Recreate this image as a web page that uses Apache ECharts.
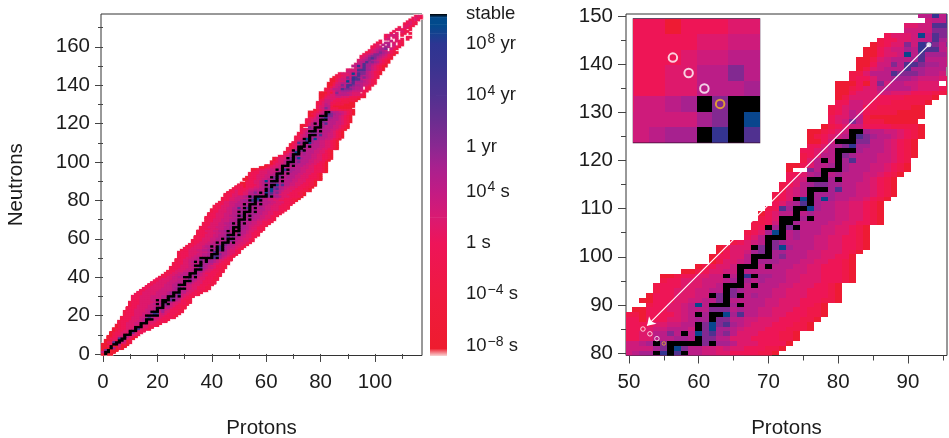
<!DOCTYPE html>
<html><head><meta charset="utf-8">
<style>html,body{margin:0;padding:0;background:#fff}#c{width:949px;height:438px}</style>
<script src="https://cdn.jsdelivr.net/npm/echarts@6/dist/echarts.min.js"></script>
</head><body><div id="c"></div>
<script>
// Half-life levels: one character per nuclide.
const levelLog = {'0':-7,'1':-2.5,'2':-0.5,'3':1.5,'4':3,'5':4.5,'6':6,'7':8,'8':11.5,'9':14.5,'B':16.7,'#':17.8};
// First proton number of the row for neutron number N = index
const rowStartZ = [0,0,0,0,0,0,1,1,2,2,3,3,4,4,5,5,6,6,7,7,8,8,8,9,9,10,10,10,11,11,11,12,13,14,15,16,17,18,19,20,21,22,23,24,25,25,26,26,27,27,28,28,28,28,29,30,31,32,33,33,34,34,35,35,35,36,36,37,37,38,38,38,39,39,40,40,41,41,42,43,
44,44,45,45,46,47,48,49,50,51,53,52,53,54,54,55,55,58,60,62,62,63,63,65,67,67,68,68,69,69,70,71,71,71,72,72,73,73,73,73,75,75,75,76,76,76,76,78,79,79,79,79,80,80,80,80,80,82,82,83,83,83,84,84,85,86,87,90,90,93,92,
93,94,94,95,95,96,97,98,99,99,100,101,102,103,104,104,106,107,108,109,110,111,112,113,114,115];
const rowLevels = [
"0#00","4##00","07#000","000#6010","002#00300","0002##4010","0228##4301","00032##401","02228##320","002244#5320",
"01223###332","0122333#7322","012233###322","01122334#83221","0122333###3321","012233343#332221","12233344###33221","1222333445#3332221","122233345###432221","12223334468644322221",
"12223334#####3322211","122233344479834322211","1222333345###463322211","12233334445#564322211","12223333445###45322211","122333344455#65432211","1222333345#6#7#4332221","12223333344 5##654332211","222333344#5###8#542211","2223333444455#77653221",
"2223333444455###6#43221","22233333444456#684332221","2233333444456###55332211","22333334444456#5543322211","2233333444456###443322211","223333344455756443322211","22333344455###4433322211","223333444555#56433322211","22333344455###543322211","22333344445576543322211",
"122334455###5#43322211","1223344555#67543322211","122334455###543222211","1223334455#6643322211","122333445###54332211","122233344568654432211","12233345###654332211","1222334455#6655332211","1223345#5#6#66543221","12233445576#665433221",
"12233445#####8#64321","122233444556#88654321","122233344556###7554321","12223333444558#55543321","12233344556#6#8#643321","122333344556#8#6544321","122333455#5#8#65543321","122333445556#765543321","122333445#5###5#443321","1222333445556#765443321",
"1223334455#6###5543321","12223334455686765443321","12233344556###6#5433221","1222333445566#475543221","12233344556#5###55433221","122233344556#5#655433221","122333444556###665433221","1223334445566#6554433221","12233344556#5#6#554433221","122333444556#665544332221",
"122333444556###6#554433221","12223334445566#66655443321","12233344556#7#6#6554433221","1223334445556#6666554433221","1223334455#6###6#5544332221","12233344555666#6655544333221","12233445585#8#5#565443332221","1223334455566#66655443332221","1223344555#5###5#55443332221","1233444555667#66555443332221",
"1223344566#9#8#5544332222110","122334444467#B755443433222110","122334456#7#####7#66533322220","122332233555665#7755333 2222110","12232233 5575#5B78675333222110","12322234455 54#7B66543332221110","12222233 4455#7B78654333222110","122022233 4566#775544333222110","1102222345#6##B68554433222110","0022233455577756554433322110",
"1223345B5###6#555443332210","002223344557#5555544333222110","022233344#7#7#56554433322210","1223334455#7655554433322210","1222333445###5#555443332210","12233344456#6565554433322210","001223344#5#9#66554433322210","00123344#5555554443322210","012334###5#555443322210","013345#66655544332210",
"022335###675554433220","0233467#6655544333210","01333#7#7B655544332210","12345#76555544332210","235###565544332210","1236B#565554433210","12#6#7#5554433210","1124##6555544332210","123###6#5554433210","02355#565554433210",
"1286##B6554433210","23568#6554433210","123#B#6B655443210","12345#666555443210","1345###6855443210","12356776655443210","234###6#55543210","22356#56555443210","0..75###6555443210","0023556#6555443210",
"135#5#6855544321","12355#76555443210","22345###655543210","2235679665543210","0024###775543210","012345#8765543210","001234##655443210","012344222211110","2347511100000","23355100000000",
"12354211110000","12344221111100","22443222111110","013333222211110","00233344333222110","00123355555433321","000203745544333.1","1223556665444321","11355587776554.21","0134555866555.21",
"00244758876654321","001345556855544321","002334B5866654321","00234465988544321","01233749875754321","1223345586554321","23334B5877543210","4444777543210","33448886643210","45586543210",
"5595866432100","455866543210","455867653210","345676543210","345787543210","234677654321","234577654210","123457654210","2345654.21","234567.421",
"1234.65.321","23.5.6.4.21","12.55.3.21","2...4.321.",".34..3.2.1","23.33...21","23443.1","2.3.21.1","2..321","2321.1",
"1.321",".2321","12321","2321","1232","2321","232"
].map(s => s.replace(/ /g,''));

// Colour scale
const barStopLog = [-8.75,-8.2,-4,0,2,4,6,7.5,9.5,11.5,14,15.5,16.3,17,17.55,17.8];
const barStopColor = ['#f9d5d5','#ee1c2e','#ef1a40','#ee1459','#d91a72','#c21b84','#a7218f','#8a2891','#6b2d90','#503190','#373490','#2d3592','#15418f','#004a8c','#034a8c','#000000'];
const barTickValues = [-8,-4,0,4,7.5,11.5,15.5,17.8];
const barTickLabels = ['10{s|\u22128} s','10{s|\u22124} s','1 s','10{s|4} s','1 yr','10{s|4} yr','10{s|8} yr','stable'];

// Decay chain and arrow
const chainZ = [52,53,54];
const chainN = [85,84,83];
const endZ = 55, endN = 82;
const arrowFrom = [93,144];
const arrowTo = [52.6,85.7];

// Ticks
const leftXMajor=[0,20,40,60,80,100], leftXMinor=[10,30,50,70,90,110];
const leftYMajor=[0,20,40,60,80,100,120,140,160], leftYMinor=[10,30,50,70,90,110,130,150,170];
const rightXMajor=[50,60,70,80,90], rightXMinor=[55,65,75,85,95];
const rightYMajor=[80,90,100,110,120,130,140,150], rightYMinor=[85,95,105,115,125,135,145];

const cells=[];
rowLevels.forEach((s,n)=>{ for(let i=0;i<s.length;i++){ if(s[i]!=='.') cells.push([rowStartZ[n]+i,n,levelLog[s[i]]]); } });
const inWin=(a,b,c,d)=>cells.filter(v=>v[0]>=a-1&&v[0]<=b+1&&v[1]>=c-1&&v[1]<=d+1);
const cellsByLevel=cells.slice().sort((p,q)=>p[2]-q[2]);

function colorFor(v){
  for(let i=1;i<barStopLog.length;i++){
    if(v<=barStopLog[i]){
      const t=(v-barStopLog[i-1])/(barStopLog[i]-barStopLog[i-1]);
      return echarts.color.lerp(t,[barStopColor[i-1],barStopColor[i]]);
    }
  }
  return barStopColor[barStopColor.length-1];
}
function cellItem(params,api){
  const z=api.value(0),n=api.value(1);
  const a=api.coord([z-0.5,n+0.5]),b=api.coord([z+0.5,n-0.5]);
  const x=Math.round(a[0]),y=Math.round(a[1]);
  return {type:'rect',shape:{x,y,width:Math.round(b[0])-x,height:Math.round(b[1])-y},style:{fill:colorFor(api.value(2))}};
}
function softItem(params,api){
  const z=api.value(0),n=api.value(1);
  const a=api.coord([z-0.5,n+0.5]),b=api.coord([z+0.5,n-0.5]);
  return {type:'rect',shape:{x:a[0]-0.2,y:a[1]-0.2,width:b[0]-a[0]+0.4,height:b[1]-a[1]+0.4},style:{fill:colorFor(api.value(2))}};
}
function haloItem(params,api){
  const z=api.value(0),n=api.value(1);
  const a=api.coord([z-0.5,n+0.5]),b=api.coord([z+0.5,n-0.5]);
  return {type:'rect',shape:{x:a[0]-0.9,y:a[1]-0.9,width:b[0]-a[0]+1.8,height:b[1]-a[1]+1.8},style:{fill:'#f9b9c9'}};
}
function barItem(params,api){
  const i=api.value(3);
  const a=api.coord([0,api.value(2)]),b=api.coord([1,api.value(1)]);
  return {type:'rect',shape:{x:a[0],y:a[1],width:b[0]-a[0],height:b[1]-a[1]+0.5},
    style:{fill:new echarts.graphic.LinearGradient(0,0,0,1,[{offset:0,color:barStopColor[i+1]},{offset:1,color:barStopColor[i]}])}};
}
const textCol='#1c1c1c', tickCol='#444', FONT='"Liberation Sans",Arial,sans-serif';
const cell=(xi,yi,data,item)=>({type:'custom',xAxisIndex:xi,yAxisIndex:yi,data,renderItem:item,clip:true,encode:{x:0,y:1},silent:true});

function axes(grid,kind,min,max,major,minor,name,gap,margin){
  const base={type:'value',gridIndex:grid,min,max,splitLine:{show:false},axisLine:{show:false},silent:true};
  const pos=kind==='x'?'bottom':'left';
  return [
    Object.assign({},base,{position:pos,name,nameLocation:'middle',nameGap:gap,nameTextStyle:{fontSize:20.5,color:textCol,fontFamily:FONT},
      axisTick:{show:true,length:8,customValues:major,lineStyle:{color:tickCol,width:1}},
      axisLabel:{show:true,margin,fontSize:20.5,color:textCol,fontFamily:FONT,customValues:major,formatter:v=>String(v)}}),
    Object.assign({},base,{position:pos,
      axisTick:{show:true,length:5,customValues:minor,lineStyle:{color:tickCol,width:1}},
      axisLabel:{show:false}})
  ];
}
const frame={show:true,borderColor:'#333',borderWidth:1,backgroundColor:'#fff',outerBoundsMode:'none'};
const xAxis=[...axes(0,'x',-0.74,117.3,leftXMajor,leftXMinor,'Protons',62,16),
             ...axes(1,'x',49.57,95.6,rightXMajor,rightXMinor,'Protons',62,16),
             {type:'value',gridIndex:2,min:49.5,max:57.5,show:false},
             {type:'value',gridIndex:3,min:0,max:1,show:false}];
const yAxis=[...axes(0,'y',-0.8,177.1,leftYMajor,leftYMinor,'Neutrons',74,11),
             ...axes(1,'y',79.5,150.4,rightYMajor,rightYMinor,'',0,13),
             {type:'value',gridIndex:2,min:79.5,max:87.5,show:false},
             {type:'value',gridIndex:3,position:'right',min:-8.75,max:17.8,splitLine:{show:false},axisLine:{show:false},
               axisTick:{show:true,length:6,customValues:barTickValues,lineStyle:{color:tickCol}},
               axisLabel:{show:true,margin:19,fontSize:18.5,color:textCol,fontFamily:FONT,customValues:barTickValues,
                 formatter:v=>{const i=barTickValues.indexOf(v);return i<0?'':barTickLabels[i];},
                 rich:{s:{fontSize:14,color:textCol,fontFamily:FONT,verticalAlign:'top',padding:[0,0,8,1]}}}}];

const chart=echarts.init(document.getElementById('c'),null,{renderer:'canvas'});
chart.setOption({
  animation:false,backgroundColor:'#fff',
  grid:[{left:101,top:14,width:321,height:341.5,...frame},
        {left:626,top:14,width:321,height:341.5,...frame},
        {left:633.5,top:19,width:126,height:123.5,show:true,borderColor:'#3a0a30',borderWidth:1.5,backgroundColor:'#fff',outerBoundsMode:'none'},
        {left:430,top:14,width:17,height:341.5,show:false,outerBoundsMode:'none'}],
  xAxis,yAxis,
  series:[
    {...cell(0,0,cells,haloItem),z:1},
    {...cell(0,0,cellsByLevel,softItem),z:2},
    cell(2,2,inWin(49.5,96,79.5,151),cellItem),
    {type:'scatter',xAxisIndex:2,yAxisIndex:2,z:5,silent:true,symbol:'circle',symbolSize:4.5,
      itemStyle:{color:'transparent',borderColor:'#fff',borderWidth:1},
      data:chainZ.map((z,i)=>[z,chainN[i]]),
      markLine:{silent:true,animation:false,symbol:['none','arrow'],symbolSize:8,label:{show:false},
        lineStyle:{color:'#fff',width:1.2,type:'solid'},data:[[{coord:arrowFrom},{coord:arrowTo}]]}},
    {type:'scatter',xAxisIndex:2,yAxisIndex:2,z:5,silent:true,symbolSize:3.5,
      itemStyle:{color:'transparent',borderColor:'#f0b323',borderWidth:1},data:[[endZ,endN]]},
    {type:'scatter',xAxisIndex:2,yAxisIndex:2,z:6,silent:true,symbolSize:5,
      itemStyle:{color:'#fff'},data:[arrowFrom]},
    {...cell(4,4,inWin(49.5,57.5,79.5,87.5),cellItem),z:7},
    {type:'scatter',xAxisIndex:4,yAxisIndex:4,z:8,silent:true,symbolSize:8.5,
      itemStyle:{color:'transparent',borderColor:'#fff',borderWidth:2},data:chainZ.map((z,i)=>[z,chainN[i]])},
    {type:'scatter',xAxisIndex:4,yAxisIndex:4,z:8,silent:true,symbolSize:8.5,
      itemStyle:{color:'transparent',borderColor:'#f5b91f',borderWidth:2},data:[[endZ,endN]]},
    {type:'custom',xAxisIndex:5,yAxisIndex:5,silent:true,clip:false,renderItem:barItem,encode:{y:[1,2]},
      data:barStopLog.slice(0,-1).map((v,i)=>[0,v,barStopLog[i+1],i])}
  ]
});
</script></body></html>
